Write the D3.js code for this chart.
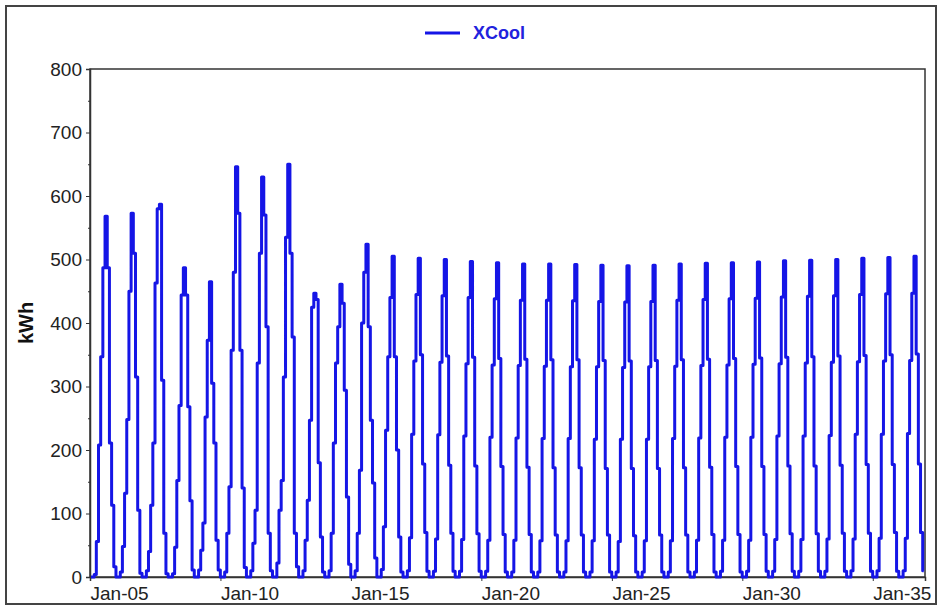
<!DOCTYPE html>
<html>
<head>
<meta charset="utf-8">
<script src="https://cdn.jsdelivr.net/npm/d3@7"></script>
<style>
  html, body { margin: 0; padding: 0; background: #fff; }
  svg { display: block; }
  text { font-family: Arial, "Liberation Sans", sans-serif; }
</style>
</head>
<body>
<svg id="chart" width="941" height="609"></svg>
<script>
// ---- data ----
const seriesName = "XCool";
const yAxisTitle = "kWh";
const years = d3.range(2005, 2037);
const months = ["Jan","Feb","Mar","Apr","May","Jun","Jul","Aug","Sep","Oct","Nov","Dec"];
// monthly kWh, one row per year (2005 .. 2036)
const xcool = [
  [0, 0, 4, 56, 208, 347, 487, 568, 487, 211, 113, 16],
  [0, 0, 8, 48, 132, 248, 450, 573, 510, 315, 105, 6],
  [0, 0, 10, 40, 113, 211, 463, 580, 587, 310, 69, 5],
  [0, 0, 5, 47, 152, 270, 444, 487, 444, 268, 120, 11],
  [0, 0, 11, 42, 85, 252, 373, 465, 305, 211, 58, 11],
  [0, 0, 8, 69, 142, 357, 480, 646, 573, 357, 140, 15],
  [0, 0, 10, 53, 105, 337, 510, 630, 570, 394, 69, 10],
  [0, 0, 22, 105, 152, 315, 535, 650, 510, 378, 69, 16],
  [0, 0, 10, 58, 121, 247, 425, 447, 437, 180, 63, 8],
  [0, 0, 10, 69, 211, 337, 394, 461, 431, 294, 126, 20],
  [0, 0, 10, 69, 168, 400, 480, 524, 394, 247, 148, 30],
  [0, 0, 12, 79, 231, 347, 440, 505, 347, 200, 63, 8],
  [0, 0, 10, 62, 225, 340, 445, 502, 350, 178, 70, 9],
  [0, 0, 9, 60, 224, 338, 443, 500, 348, 176, 69, 9],
  [0, 0, 9, 59, 222, 336, 440, 497, 346, 175, 68, 9],
  [0, 0, 9, 58, 220, 334, 438, 495, 344, 174, 67, 8],
  [0, 0, 8, 58, 219, 333, 436, 493, 343, 173, 67, 8],
  [0, 0, 8, 57, 218, 332, 436, 493, 342, 172, 66, 8],
  [0, 0, 8, 57, 218, 331, 435, 492, 342, 172, 66, 8],
  [0, 0, 8, 57, 217, 331, 434, 491, 341, 171, 66, 8],
  [0, 0, 8, 56, 217, 330, 433, 490, 340, 171, 65, 8],
  [0, 0, 8, 57, 217, 331, 434, 491, 341, 171, 66, 8],
  [0, 0, 8, 57, 218, 332, 436, 493, 342, 172, 66, 8],
  [0, 0, 8, 58, 219, 333, 437, 494, 343, 173, 67, 8],
  [0, 0, 9, 58, 220, 334, 438, 495, 344, 174, 67, 8],
  [0, 0, 9, 58, 220, 335, 439, 496, 345, 174, 67, 9],
  [0, 0, 9, 59, 222, 336, 441, 498, 346, 175, 68, 9],
  [0, 0, 9, 59, 222, 337, 442, 499, 347, 175, 68, 9],
  [0, 0, 9, 60, 223, 338, 443, 500, 348, 176, 69, 9],
  [0, 0, 10, 60, 225, 339, 445, 502, 349, 177, 69, 9],
  [0, 0, 10, 61, 225, 340, 446, 503, 350, 177, 70, 9],
  [0, 0, 10, 61, 226, 341, 447, 505, 351, 178, 70, 10]
];
const yTicks = [0, 100, 200, 300, 400, 500, 600, 700, 800];
const xTickYears = [2005, 2010, 2015, 2020, 2025, 2030, 2035];

// ---- build table ----
const points = [];
years.forEach((yr, i) => {
  xcool[i].forEach((v, m) => points.push({ date: new Date(yr, m, 15), value: v }));
});

// ---- layout ----
const svg = d3.select("#chart");
const pL = 90, pR = 925, pT = 69, pB = 577;
const lineColor = "#1515e6";

const x = d3.scaleTime()
  .domain([new Date(2005, 0, 1), new Date(2037, 0, 1)])
  .range([pL, pR]);
const y = d3.scaleLinear().domain([0, 800]).range([pB, pT]);

// outer frame
svg.append("rect")
  .attr("x", 6).attr("y", 6).attr("width", 930).attr("height", 598)
  .attr("fill", "#fff").attr("stroke", "#444").attr("stroke-width", 2);

// plot frame
svg.append("rect")
  .attr("x", pL).attr("y", pT).attr("width", pR - pL).attr("height", pB - pT)
  .attr("fill", "none").attr("stroke", "#333").attr("stroke-width", 1.5);

// y axis
const yAxis = d3.axisLeft(y).tickValues(yTicks).tickSize(4).tickPadding(4).tickFormat(d3.format("d"));
const gy = svg.append("g").attr("transform", `translate(${pL},0)`).call(yAxis);
gy.select(".domain").attr("stroke", "#333").attr("stroke-width", 1.5);
gy.selectAll(".tick line").attr("stroke", "#333");
gy.selectAll(".tick text").attr("font-size", 19).attr("fill", "#222")
  .attr("font-family", "Arial, 'Liberation Sans', sans-serif");
// minor y ticks
const yMinor = d3.axisLeft(y).tickValues(d3.range(50, 800, 100)).tickSize(2).tickFormat("");
const gym = svg.append("g").attr("transform", `translate(${pL},0)`).call(yMinor);
gym.select(".domain").remove();
gym.selectAll(".tick line").attr("stroke", "#333");

// x axis
const xAxis = d3.axisBottom(x)
  .tickValues(xTickYears.map(yr => new Date(yr, 0, 1)))
  .tickSize(4).tickPadding(6)
  .tickFormat(d3.timeFormat("%b-%y"));
const gx = svg.append("g").attr("transform", `translate(0,${pB})`).call(xAxis);
gx.select(".domain").attr("stroke", "#333").attr("stroke-width", 1.5);
gx.selectAll(".tick line").attr("stroke", "#333");
gx.selectAll(".tick text").attr("font-size", 19).attr("fill", "#222")
  .attr("text-anchor", "start")
  .attr("font-family", "Arial, 'Liberation Sans', sans-serif");

// y axis title
svg.append("text")
  .attr("transform", `translate(33,${(pT + pB) / 2}) rotate(-90)`)
  .attr("text-anchor", "middle")
  .attr("font-size", 20).attr("font-weight", "bold").attr("fill", "#111")
  .text(yAxisTitle);

// series line
const line = d3.line().x(d => x(d.date)).y(d => y(d.value)).curve(d3.curveStep);
svg.append("path")
  .datum(points)
  .attr("fill", "none")
  .attr("stroke", lineColor)
  .attr("stroke-width", 3)
  .attr("stroke-linejoin", "round")
  .attr("d", line);

// legend
svg.append("line")
  .attr("x1", 425).attr("x2", 460).attr("y1", 33).attr("y2", 33)
  .attr("stroke", lineColor).attr("stroke-width", 3);
svg.append("text")
  .attr("x", 473).attr("y", 39)
  .attr("font-size", 18).attr("font-weight", "bold").attr("fill", "#2222dd")
  .text(seriesName);
</script>
</body>
</html>
